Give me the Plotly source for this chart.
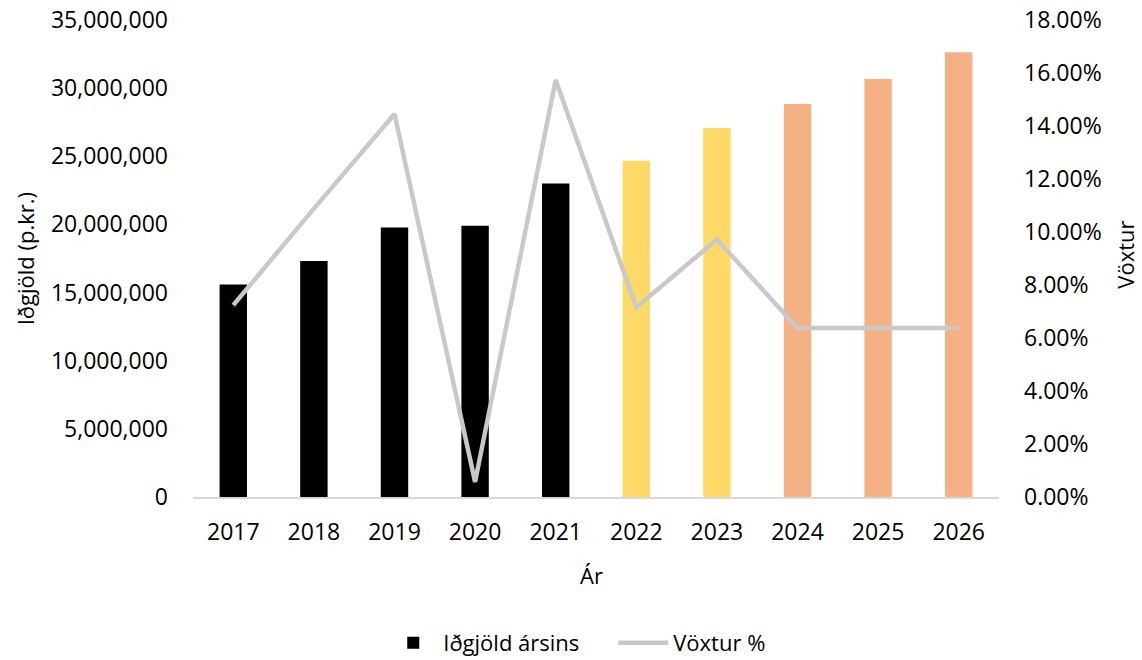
import plotly.graph_objects as go

# Yearly premiums (ISK thousands) and growth rate
years = ["2017", "2018", "2019", "2020", "2021", "2022", "2023", "2024", "2025", "2026"]
premiums = [15590000, 17310000, 19780000, 19900000, 23010000,
            24670000, 27070000, 28830000, 30670000, 32630000]
growth = [0.0724, 0.1088, 0.1445, 0.0057, 0.1574,
          0.0715, 0.0972, 0.0638, 0.0638, 0.0638]

# Actuals in black, short-term forecast in yellow, long-term in orange
bar_colors = ["#000000"] * 5 + ["#FFD966"] * 2 + ["#F4B183"] * 3

FONT = "Open Sans, DejaVu Sans, sans-serif"

fig = go.Figure()
fig.add_trace(go.Bar(
    x=years, y=premiums, name="Iðgjöld ársins",
    marker=dict(color=bar_colors, line=dict(width=0)),
    width=0.34, yaxis="y",
))
fig.add_trace(go.Scatter(
    x=years, y=growth, name="Vöxtur %", mode="lines",
    line=dict(color="#C9C9C9", width=4.5, shape="linear"),
    yaxis="y2",
))

fig.update_layout(
    width=1142, height=660,
    margin=dict(l=193, r=143, t=20, b=163),
    paper_bgcolor="white", plot_bgcolor="white",
    font=dict(family=FONT, size=23, color="#000000"),
    showlegend=True,
    legend=dict(orientation="h", xref="container", yref="container",
                x=0.537, y=0.026, xanchor="center", yanchor="middle",
                font=dict(size=22), itemwidth=50, entrywidth=165,
                traceorder="normal"),
    xaxis=dict(
        type="category", showgrid=False, showline=True, linecolor="#D9D9D9",
        linewidth=1.5, ticks="", tickfont=dict(size=23), ticklabelstandoff=14,
        automargin=False,
    ),
    yaxis=dict(
        range=[0, 35000000], dtick=5000000, tickformat=",d", showgrid=False,
        zeroline=False, showline=False, ticks="", tickfont=dict(size=23),
        ticklabelstandoff=24, automargin=False,
    ),
    yaxis2=dict(
        range=[0, 0.18], dtick=0.02, tickformat=".2%", overlaying="y", side="right",
        showgrid=False, zeroline=False, showline=False, ticks="",
        tickfont=dict(size=23), ticklabelstandoff=24, automargin=False,
    ),
    annotations=[
        dict(text="Iðgjöld (p.kr.)", xref="paper", yref="paper", x=-0.208, y=0.499,
             textangle=-90, showarrow=False, font=dict(size=22),
             xanchor="center", yanchor="middle"),
        dict(text="Vöxtur", xref="paper", yref="paper", x=1.157, y=0.507,
             textangle=-90, showarrow=False, font=dict(size=22),
             xanchor="center", yanchor="middle"),
        dict(text="Ár", xref="paper", yref="paper", x=0.495, y=-0.1635,
             showarrow=False, font=dict(size=22), xanchor="center", yanchor="middle"),
    ],
)

fig.write_html("out.html")
